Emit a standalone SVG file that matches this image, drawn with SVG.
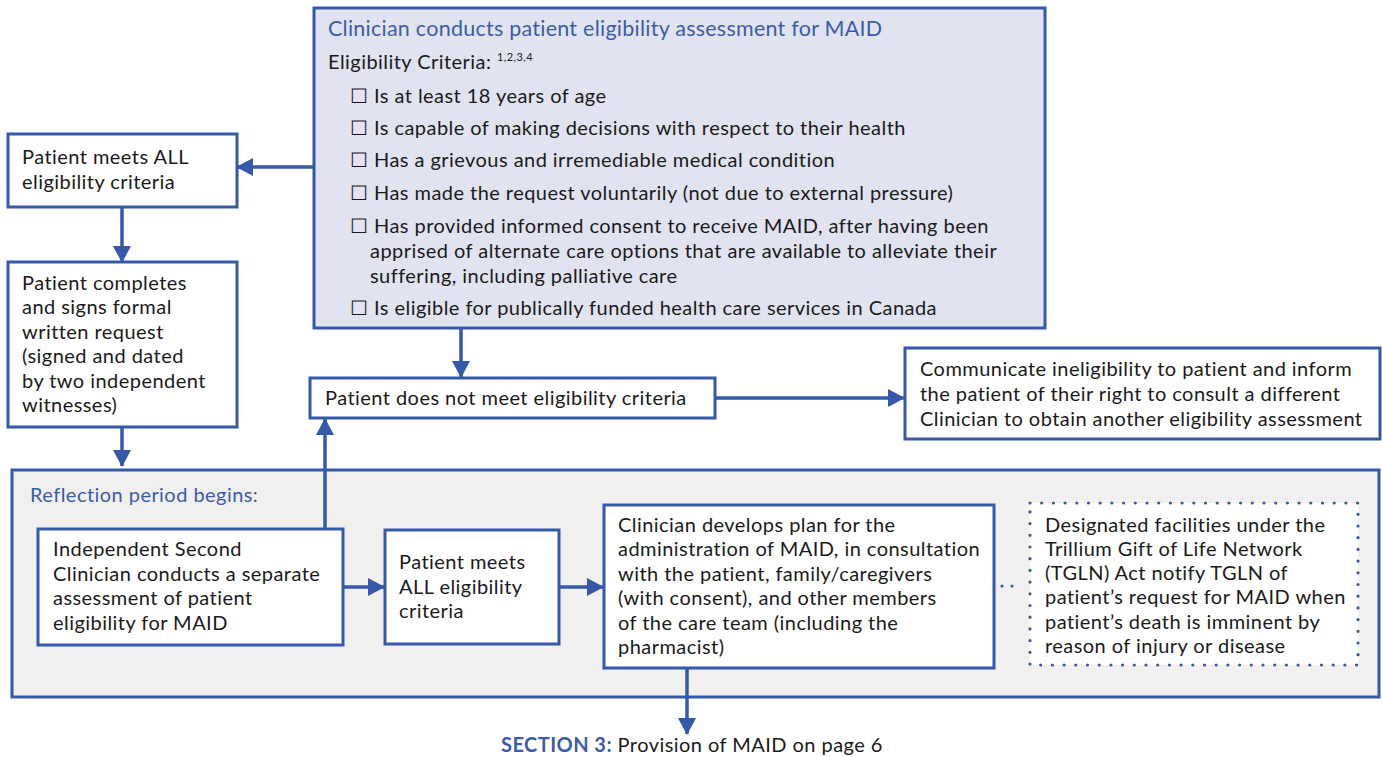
<svg xmlns="http://www.w3.org/2000/svg" width="1382" height="757" viewBox="0 0 1382 757">
<style>
text{font-family:Lato,"Open Sans","Liberation Sans",sans-serif;font-size:20px;fill:#1a1a1a;letter-spacing:0.45px;}
.blue{fill:#3c5ca8;}
.dark{fill:#1a1a1a;}
.title{font-size:21.5px;fill:#3c5ca8;letter-spacing:0.25px;}
.box{fill:#fff;stroke:#3558a8;stroke-width:3;}
.dot{fill:#fff;stroke:#3558a8;stroke-width:3.2;stroke-dasharray:0 11.7;stroke-linecap:round;}
.conn{fill:none;stroke:#3558a8;stroke-width:3.5;}
.dline{fill:none;stroke:#3558a8;stroke-width:3.2;stroke-dasharray:0 10;stroke-linecap:round;}
</style>
<defs>
<marker id="ah" markerUnits="userSpaceOnUse" markerWidth="18" markerHeight="18" viewBox="0 0 18 18" refX="16" refY="9" orient="auto">
<path d="M0,0 L17,9 L0,18 Z" fill="#3558a8"/>
</marker>
</defs>
<g id="reflection">
<rect x="12" y="470" width="1367" height="227" fill="#f1f0ef" stroke="#3558a8" stroke-width="3"/>
<text class="blue" x="30" y="502">Reflection period begins:</text>
</g>
<g id="assessment">
<rect x="314" y="8" width="731" height="320" fill="#e1e3f0" stroke="#3558a8" stroke-width="3"/>
<text class="title" x="328" y="36">Clinician conducts patient eligibility assessment for MAID</text>
<text x="328" y="69">Eligibility Criteria: <tspan font-size="11" dy="-8">1,2,3,4</tspan></text>
<text x="350" y="103">☐ Is at least 18 years of age</text>
<text x="350" y="135">☐ Is capable of making decisions with respect to their health</text>
<text x="350" y="167">☐ Has a grievous and irremediable medical condition</text>
<text x="350" y="200">☐ Has made the request voluntarily (not due to external pressure)</text>
<text x="350" y="233">☐ Has provided informed consent to receive MAID, after having been</text>
<text x="370" y="258">apprised of alternate care options that are available to alleviate their</text>
<text x="370" y="283">suffering, including palliative care</text>
<text x="350" y="315">☐  Is eligible for publically funded health care services in Canada</text>
</g>
<g id="meets1">
<rect class="box" x="8" y="134" width="229" height="73"/>
<text x="22" y="164">Patient meets ALL</text>
<text x="22" y="189">eligibility criteria</text>
</g>
<g id="request">
<rect class="box" x="8" y="262" width="229" height="165"/>
<text x="22" y="290">Patient completes</text>
<text x="22" y="314.4">and signs formal</text>
<text x="22" y="338.8">written request</text>
<text x="22" y="363.2">(signed and dated</text>
<text x="22" y="387.6">by two independent</text>
<text x="22" y="412">witnesses)</text>
</g>
<g id="notmeet">
<rect class="box" x="310" y="378" width="405" height="40"/>
<text x="325" y="405">Patient does not meet eligibility criteria</text>
</g>
<g id="communicate">
<rect class="box" x="905" y="348" width="475" height="91"/>
<text x="920" y="376">Communicate ineligibility to patient and inform</text>
<text x="920" y="401">the patient of their right to consult a different</text>
<text x="920" y="426">Clinician to obtain another eligibility assessment</text>
</g>
<g id="second">
<rect class="box" x="38" y="529" width="305" height="116"/>
<text x="53" y="556">Independent Second</text>
<text x="53" y="580.5">Clinician conducts a separate</text>
<text x="53" y="605">assessment of patient</text>
<text x="53" y="629.5">eligibility for MAID</text>
</g>
<g id="meets2">
<rect class="box" x="385" y="530" width="174" height="114"/>
<text x="399" y="569">Patient meets</text>
<text x="399" y="593.5">ALL eligibility</text>
<text x="399" y="618">criteria</text>
</g>
<g id="plan">
<rect class="box" x="604" y="505" width="390" height="163"/>
<text x="618" y="532">Clinician develops plan for the</text>
<text x="618" y="556.4">administration of MAID, in consultation</text>
<text x="618" y="580.8">with the patient, family/caregivers</text>
<text x="618" y="605.2">(with consent), and other members</text>
<text x="618" y="629.6">of the care team (including the</text>
<text x="618" y="654">pharmacist)</text>
</g>
<g id="tgln">
<rect class="dot" x="1030" y="503" width="328" height="162"/>
<text x="1045" y="531.5">Designated facilities under the</text>
<text x="1045" y="555.8">Trillium Gift of Life Network</text>
<text x="1045" y="580.1">(TGLN) Act notify TGLN of</text>
<text x="1045" y="604.4">patient’s request for MAID when</text>
<text x="1045" y="628.7">patient’s death is imminent by</text>
<text x="1045" y="653">reason of injury or disease</text>
</g>
<g id="footer">
<text x="501" y="752"><tspan class="blue" font-weight="bold">SECTION 3:</tspan><tspan class="dark"> Provision of MAID on page 6</tspan></text>
</g>
<g id="connectors">
<path class="conn" d="M314,167 H237" marker-end="url(#ah)"/>
<path class="conn" d="M122,207 V262" marker-end="url(#ah)"/>
<path class="conn" d="M122,427 V466" marker-end="url(#ah)"/>
<path class="conn" d="M461,328 V377" marker-end="url(#ah)"/>
<path class="conn" d="M715,398 H904" marker-end="url(#ah)"/>
<path class="conn" d="M325,529 V419" marker-end="url(#ah)"/>
<path class="conn" d="M343,587 H384" marker-end="url(#ah)"/>
<path class="conn" d="M559,587 H603" marker-end="url(#ah)"/>
<path class="dline" d="M1002,586 H1022"/>
<path class="conn" d="M687,668 V734" marker-end="url(#ah)"/>
</g>
</svg>
